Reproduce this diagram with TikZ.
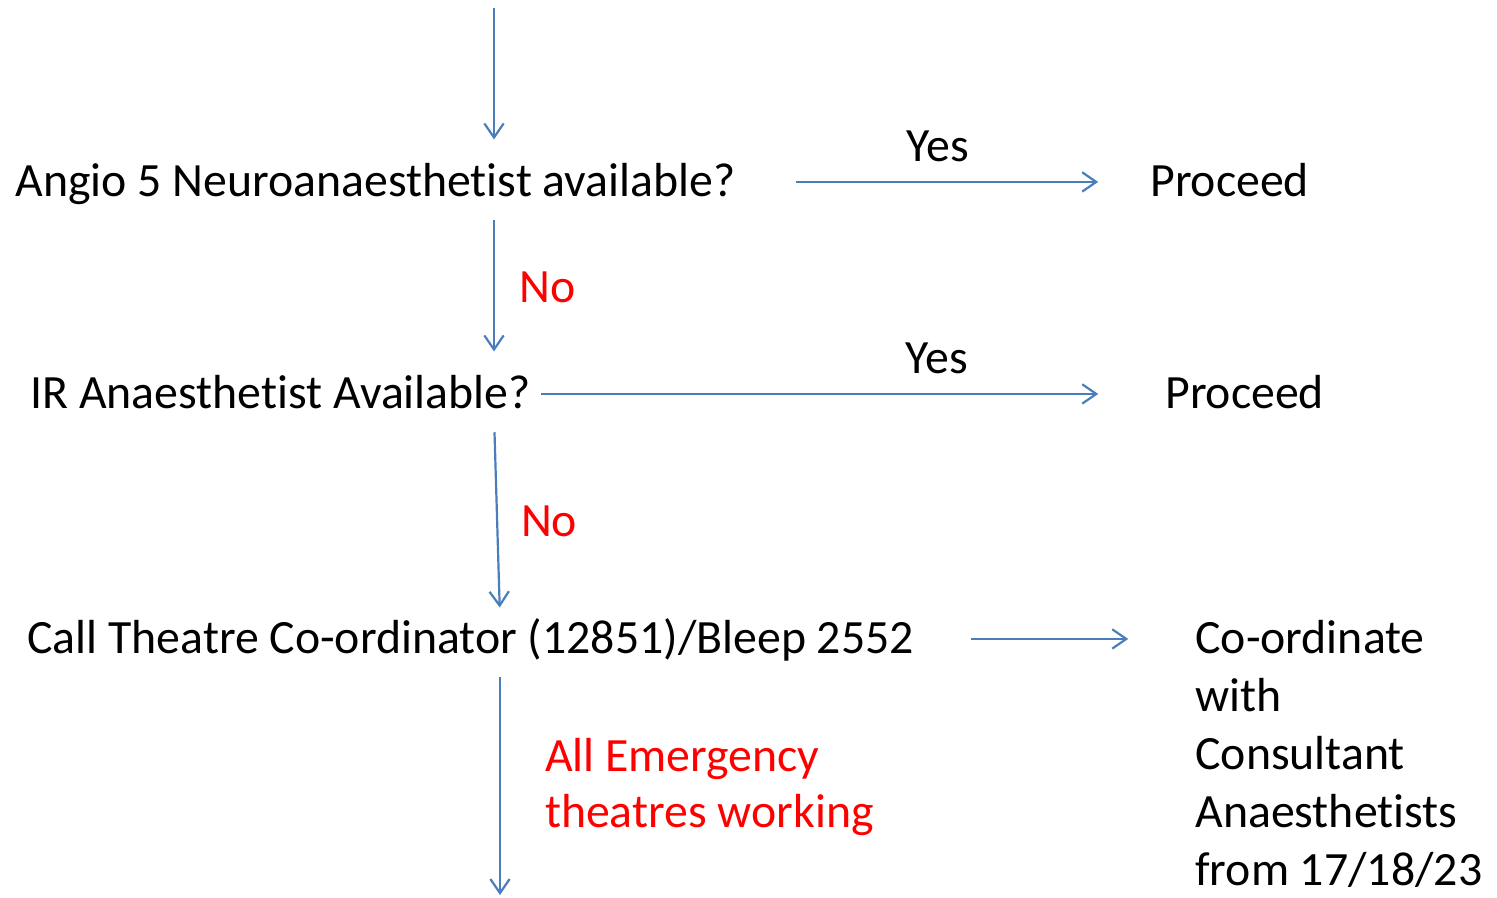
\documentclass[tikz,border=0pt]{standalone}
\usepackage{fontspec}
\setmainfont{Carlito}[Ligatures=NoCommon]
\usetikzlibrary{arrows.meta,positioning}
\definecolor{flowblue}{HTML}{4A7EBB}
\definecolor{answerred}{HTML}{FF0000}

\begin{document}
\begin{tikzpicture}[
        x=0.02cm, y=-0.02cm,
        txt/.style={inner sep=0pt, anchor=base west, text height=20pt, text depth=4pt, font=\fontsize{27.2}{33}\selectfont},
        answer/.style={txt, text=answerred},
        block/.style={inner sep=0pt, align=left, font=\fontsize{27.2}{33}\selectfont},
        flow/.style={-{Straight Barb[length=8pt, width=11pt]}, draw=flowblue, line width=1.25pt}
    ]
    \useasboundingbox (0,0) rectangle (1497,897);

    % Free ends of the vertical chain
    \coordinate (entry) at (494,8);
    \coordinate (exit) at (500,895);

    % Questions (LEFT)
    \node[txt] (angio-q) at (15,196) {Angio 5 Neuroanaesthetist available?};
    \node[txt] (ir-q) at (30,408) {IR Anaesthetist Available?};
    \node[txt] (call) at (27,653) {Call Theatre Co-ordinator (12851)/Bleep 2552};

    % Outcomes (RIGHT)
    \node[txt] (angio-go) at (1150,196) {Proceed};
    \node[txt] (ir-go) at (1165,408) {Proceed};
    \node[block, anchor=base west] (consult) at (1195,885) {Co-ordinate\\with\\Consultant\\Anaesthetists\\from 17/18/23};

    % Vertical chain - No branches
    \draw[flow, shorten >=12pt] (entry) -- (angio-q.north -| entry);
    \draw[flow, shorten <=9.6pt, shorten >=12pt] (angio-q.south -| entry) -- node[answer, anchor=west, right=14pt] (no-1) {No} (ir-q.north -| entry);
    \draw[flow, shorten <=9.6pt, shorten >=5.7pt] (ir-q.south -| entry) -- node[answer, anchor=west, right=13pt, pos=0.53] (no-2) {No} (call.north -| exit);
    \draw[flow, shorten <=9.6pt] (call.south -| exit) -- node[block, text=answerred, anchor=west, right=25pt, pos=0.54, font=\fontsize{27.2}{31.7}\selectfont] (working) {All Emergency\\theatres working} (exit);

    % Horizontal - Yes branches
    \draw[flow, shorten <=34pt, shorten >=29.5pt] (angio-q.east) -- node[txt, anchor=south, above=7pt, pos=0.487] (yes-1) {Yes} (angio-go.west);
    \draw[flow, shorten <=5.7pt, shorten >=38pt] (ir-q.east) -- node[txt, anchor=south, above=7pt, pos=0.64] (yes-2) {Yes} (ir-go.west);
    \draw[flow, shorten <=32pt, shorten >=38pt] (call.east) -- (consult.west |- call.east);

\end{tikzpicture}
\end{document}
